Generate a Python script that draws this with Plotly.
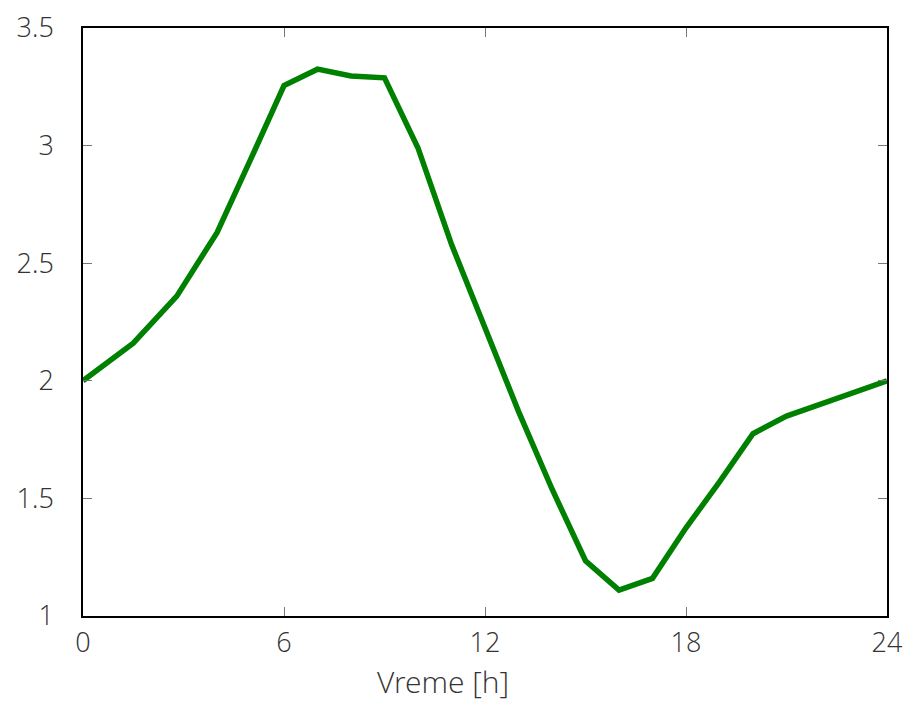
import plotly.graph_objects as go

hours = [0, 1.5, 2.8, 4, 5, 6, 7, 8, 9, 10, 11, 12, 13, 14, 15, 16, 17, 18, 19, 20, 21, 22, 23, 24]
values = [2.0, 2.16, 2.36, 2.63, 2.94, 3.255, 3.325, 3.296, 3.288, 2.99, 2.58, 2.22, 1.87, 1.54,
          1.235, 1.11, 1.16, 1.375, 1.57, 1.775, 1.85, 1.9, 1.95, 2.0]
x_ticks = [0, 6, 12, 18, 24]
y_ticks = [1, 1.5, 2, 2.5, 3, 3.5]
y_tick_labels = ["1", "1.5", "2", "2.5", "3", "3.5"]
x_title = "Vreme [h]"

fig = go.Figure()
fig.add_trace(go.Scatter(x=hours, y=values, mode="lines",
                         line=dict(color="#008000", width=5.5), showlegend=False))

font = dict(family="Open Sans Light, Open Sans", size=27, color="#333333", weight=300)
fig.update_layout(
    width=914, height=693,
    margin=dict(l=75, r=35, t=20, b=85, autoexpand=False),
    paper_bgcolor="white", plot_bgcolor="white",
    font=font,
)
axis_common = dict(showgrid=False, zeroline=False, showline=True, linecolor="black",
                   linewidth=1.5, mirror="ticks", ticks="inside", ticklen=9,
                   tickcolor="#777777", tickwidth=1.2, tickfont=font, automargin=False)
fig.update_xaxes(range=[0, 24], tickvals=x_ticks, ticktext=[str(t) for t in x_ticks],
                 ticklabelstandoff=2, **axis_common)
fig.update_yaxes(range=[1, 3.5], tickvals=y_ticks, ticktext=y_tick_labels,
                 ticklabelstandoff=22, **axis_common)
fig.add_annotation(text=x_title, xref="paper", yref="paper", x=0.448, y=-0.111,
                   xanchor="center", yanchor="middle", showarrow=False,
                   font=dict(family="Open Sans Light, Open Sans", size=30, color="#333333", weight=300))

fig.write_html("out.html")
